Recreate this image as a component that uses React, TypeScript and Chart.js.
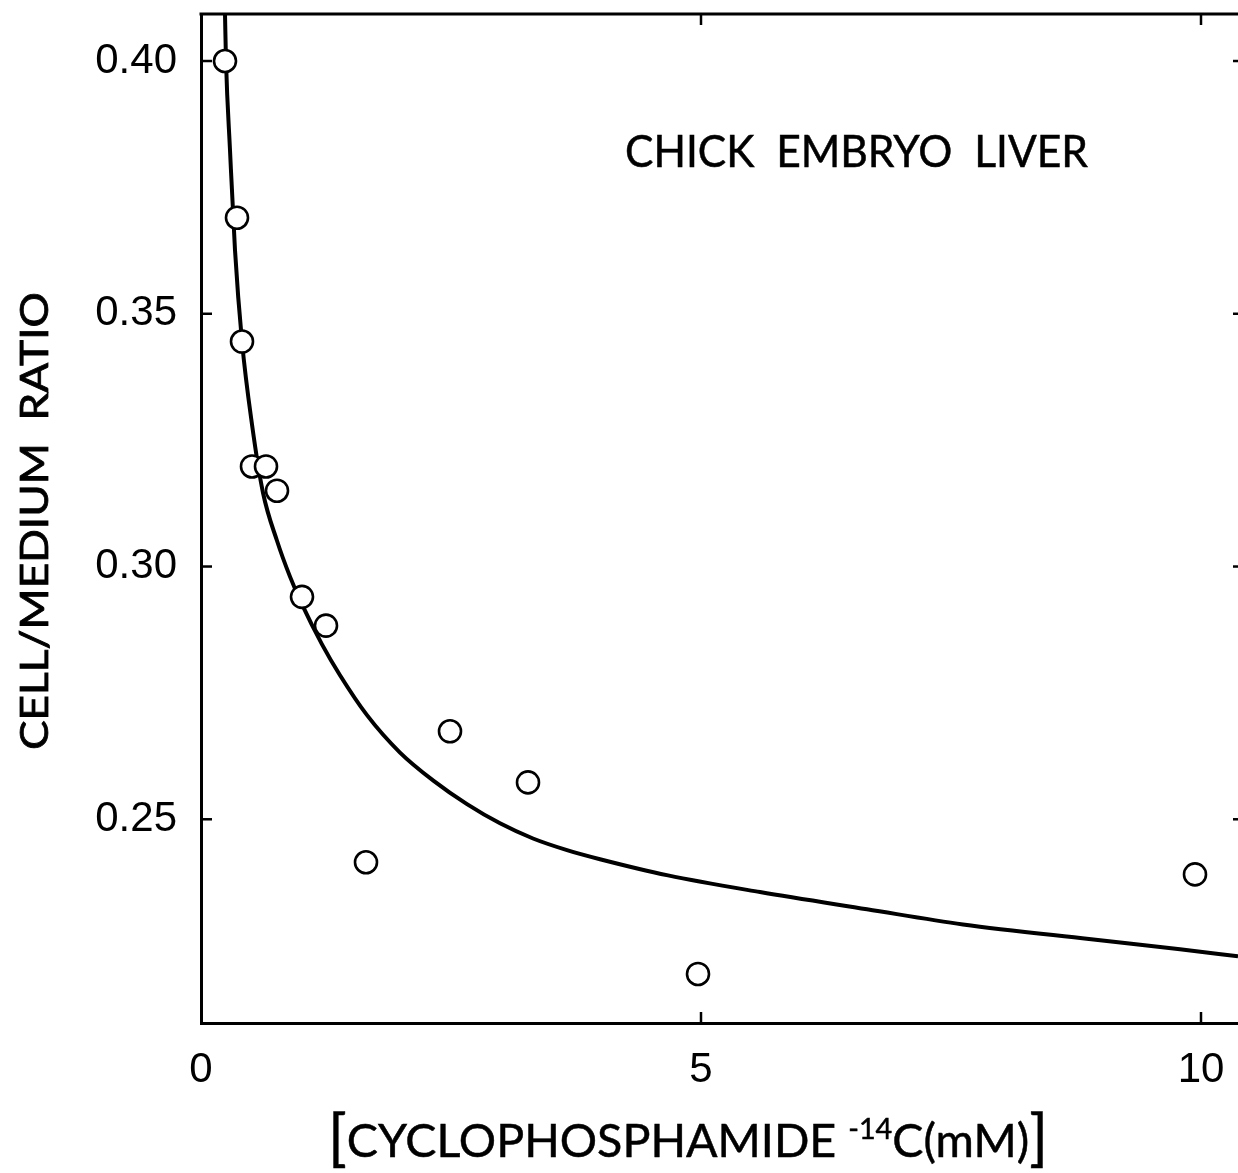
import React, { useEffect, useRef } from "react";
import { Chart, registerables } from "chart.js";

Chart.register(...registerables);

// ---- data ----
const pointX = [0.24, 0.36, 0.41, 0.51, 0.65, 0.76, 1.01, 1.25, 1.65, 2.49, 3.27, 4.97, 9.94];
const pointY = [0.4, 0.369, 0.3445, 0.3198, 0.3198, 0.315, 0.294, 0.2883, 0.2415, 0.2674, 0.2573, 0.2194, 0.2391];

const curveX = [0.24, 0.25, 0.29, 0.34, 0.41, 0.51, 0.62, 0.76, 0.89, 1.01, 1.21, 1.39, 1.66, 1.99, 2.32, 2.66, 2.99, 3.32, 3.66, 3.99, 4.67, 5.59, 6.66, 7.62, 8.88, 9.79, 10.37];
const curveY = [0.4093, 0.4, 0.3824, 0.3626, 0.3445, 0.3281, 0.3146, 0.3051, 0.298, 0.2925, 0.2846, 0.2785, 0.2706, 0.2632, 0.2577, 0.253, 0.2492, 0.2462, 0.2439, 0.2421, 0.2389, 0.2356, 0.2322, 0.2292, 0.2263, 0.2243, 0.2229];

const xTickValues = [0, 5, 10];
const yTickValues = [0.25, 0.3, 0.35, 0.4];

const xMin = 0;
const xMax = 10.37;
const yMin = 0.2097;
const yMax = 0.4093;

const panelTitle = "CHICK  EMBRYO  LIVER";
const yTitle = "CELL/MEDIUM  RATIO";
const xTitleMain = "CYCLOPHOSPHAMIDE ";
const xTitleSup = "-14";
const xTitleTail = "C(mM)";

const W = 1238;
const H = 1173;
const TITLE_FONT = "Lato, 'Noto Sans', sans-serif";
const TICK_FONT = "'Liberation Sans', Arial, sans-serif";

function drawFitted(ctx: CanvasRenderingContext2D, text: string, font: string, width: number, stroke: number) {
  ctx.font = font;
  const w = ctx.measureText(text).width;
  ctx.scale(width / w, 1);
  ctx.fillText(text, 0, 0);
  ctx.lineWidth = stroke;
  ctx.strokeText(text, 0, 0);
}

const zeroPadding = (scale: any) => {
  scale.paddingLeft = 0;
  scale.paddingRight = 0;
  scale.paddingTop = 0;
  scale.paddingBottom = 0;
};

const decorPlugin = {
  id: "decor",
  afterDraw(chart: any) {
    const { ctx, chartArea: a, scales } = chart;
    const xs = scales.x;
    const ys = scales.y;
    const line = (x1: number, y1: number, x2: number, y2: number) => {
      ctx.beginPath();
      ctx.moveTo(x1, y1);
      ctx.lineTo(x2, y2);
      ctx.stroke();
    };
    ctx.save();
    ctx.strokeStyle = "#000";
    ctx.fillStyle = "#000";
    ctx.lineWidth = 3;
    line(a.left - 1.5, a.top, a.right, a.top);
    ctx.lineWidth = 2.5;
    yTickValues.forEach((v) => {
      const y = ys.getPixelForValue(v);
      line(a.left, y, a.left + 11, y);
      line(a.right - 5, y, a.right, y);
    });
    xTickValues.forEach((v) => {
      if (v === xMin) return;
      const x = xs.getPixelForValue(v);
      line(x, a.bottom, x, a.bottom - 11);
      line(x, a.top, x, a.top + 11);
    });

    ctx.textBaseline = "alphabetic";
    ctx.textAlign = "left";

    // panel title
    ctx.save();
    ctx.translate(625, 167);
    drawFitted(ctx, panelTitle, `44px ${TITLE_FONT}`, 463, 0.5);
    ctx.restore();

    // y title (rotated)
    ctx.save();
    ctx.translate(48, 750);
    ctx.rotate(-Math.PI / 2);
    drawFitted(ctx, yTitle, `39px ${TITLE_FONT}`, 458, 0.8);
    ctx.restore();

    // x title with brackets and superscript
    const bigFont = `62px ${TITLE_FONT}`;
    const mainFont = `47px ${TITLE_FONT}`;
    const supFont = `29px ${TITLE_FONT}`;
    const parts = [
      { t: "[", f: bigFont, dy: 2 },
      { t: xTitleMain, f: mainFont, dy: 0 },
      { t: xTitleSup, f: supFont, dy: -18 },
      { t: xTitleTail, f: mainFont, dy: 0 },
      { t: "]", f: bigFont, dy: 2 },
    ];
    let total = 0;
    const widths = parts.map((p) => {
      ctx.font = p.f;
      const w = ctx.measureText(p.t).width;
      total += w;
      return w;
    });
    ctx.save();
    ctx.translate(328, 1157);
    ctx.scale(720 / total, 1);
    ctx.lineWidth = 0.5;
    let cx = 0;
    parts.forEach((p, i) => {
      ctx.font = p.f;
      ctx.fillText(p.t, cx, p.dy);
      ctx.strokeText(p.t, cx, p.dy);
      cx += widths[i];
    });
    ctx.restore();

    ctx.restore();
  },
};

export default function App() {
  const canvasRef = useRef<HTMLCanvasElement | null>(null);

  useEffect(() => {
    const canvas = canvasRef.current;
    if (!canvas) return;
    const chart = new Chart(canvas, {
      type: "scatter",
      data: {
        datasets: [
          {
            label: "measured",
            data: pointX.map((x, i) => ({ x, y: pointY[i] })),
            pointRadius: 11,
            pointHoverRadius: 11,
            pointBackgroundColor: "#fff",
            pointBorderColor: "#000",
            pointBorderWidth: 2.6,
            showLine: false,
            order: 1,
          },
          {
            label: "fit",
            type: "line",
            data: curveX.map((x, i) => ({ x, y: curveY[i] })),
            borderColor: "#000",
            borderWidth: 4,
            pointRadius: 0,
            fill: false,
            cubicInterpolationMode: "monotone",
            order: 2,
          } as any,
        ],
      },
      options: {
        animation: false,
        responsive: false,
        devicePixelRatio: 1,
        layout: { autoPadding: false, padding: { left: 0, right: 0, top: 14, bottom: 0 } },
        plugins: {
          legend: { display: false },
          tooltip: { enabled: false },
          title: { display: false },
        },
        scales: {
          x: {
            type: "linear",
            min: xMin,
            max: xMax,
            afterBuildTicks: (scale: any) => {
              scale.ticks = xTickValues.map((v) => ({ value: v }));
            },
            afterFit: (scale: any) => {
              scale.height = H - 1023;
              zeroPadding(scale);
            },
            grid: { display: false, drawTicks: false },
            border: { display: true, color: "#000", width: 3 },
            ticks: {
              color: "#000",
              font: { family: TICK_FONT, size: 42 },
              padding: 22,
              maxRotation: 0,
              callback: (v: any) => String(v),
            },
          },
          y: {
            type: "linear",
            min: yMin,
            max: yMax,
            afterBuildTicks: (scale: any) => {
              scale.ticks = yTickValues.map((v) => ({ value: v }));
            },
            afterFit: (scale: any) => {
              scale.width = 201;
              zeroPadding(scale);
            },
            grid: { display: false, drawTicks: false },
            border: { display: true, color: "#000", width: 3 },
            ticks: {
              color: "#000",
              font: { family: TICK_FONT, size: 42 },
              padding: 24,
              callback: (v: any) => Number(v).toFixed(2),
            },
          },
        },
      },
      plugins: [decorPlugin],
    });
    return () => chart.destroy();
  }, []);

  return (
    <div style={{ position: "absolute", left: 0, top: 0, width: W, height: H, background: "#fff" }}>
      <canvas ref={canvasRef} width={W} height={H} style={{ display: "block", width: W, height: H }} />
    </div>
  );
}
